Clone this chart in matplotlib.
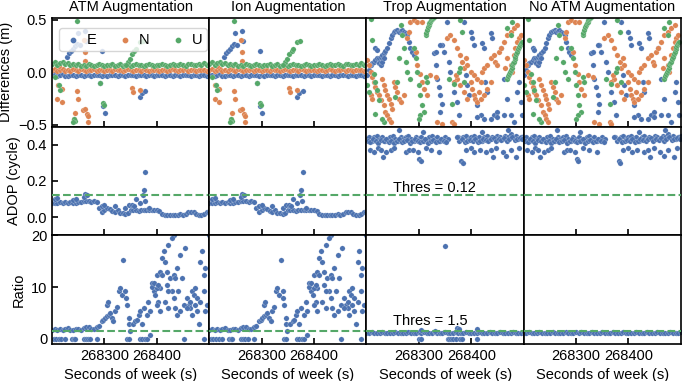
import numpy as np
import matplotlib.pyplot as plt

plt.rcParams['font.family'] = ['Liberation Sans', 'DejaVu Sans']
plt.rcParams['font.size'] = 10.5

BLUE, ORANGE, GREEN = '#4c72b0', '#dd8452', '#55a868'
nan = np.nan

titles = ['ATM Augmentation', 'Ion Augmentation', 'Trop Augmentation', 'No ATM Augmentation']
row_labels = ['Differences (m)', 'ADOP (cycle)', 'Ratio']
thres_adop = 0.12
thres_ratio = 1.5

# ---- Differences, ATM / Ion (bands every 5 s + outliers) ----
diff_E_band = [-0.03, -0.024, -0.038, -0.03, -0.02, -0.033, -0.04, -0.027, -0.022, -0.035,
               -0.03, -0.022, -0.038, -0.03, -0.026, -0.036, -0.03, -0.022, -0.03, -0.04,
               -0.026, -0.034, -0.03, -0.022, -0.03, -0.037, -0.026, -0.03, -0.04, -0.03,
               -0.022, -0.03, -0.036, -0.026, -0.03, -0.03, -0.039, -0.024, -0.03, -0.034,
               -0.026, -0.03, -0.03, -0.037, -0.023, -0.03, -0.039, -0.026, -0.03, -0.034,
               -0.03, -0.022, -0.03, -0.036, -0.026, -0.03, -0.039, -0.03, -0.025, -0.034, -0.03]
diff_N_band = [0.02, 0.028, 0.012, 0.02, 0.032, 0.015, 0.024, 0.01, 0.028, 0.02,
               0.014, 0.027, 0.02, 0.012, 0.025, 0.02, 0.029, 0.015, 0.02, 0.026,
               0.016, 0.023, 0.02, 0.013, 0.027, 0.02, 0.024, 0.015, 0.02, 0.028,
               0.02, 0.013, 0.025, 0.02, 0.016, 0.027, 0.02, 0.014, 0.023, 0.02,
               0.026, 0.016, 0.02, 0.025, 0.014, 0.02, 0.028, 0.02, 0.013, 0.023,
               0.02, 0.027, 0.016, 0.02, 0.025, 0.014, 0.02, 0.026, 0.02, 0.015, 0.023]
diff_U_band = [0.08, 0.095, 0.07, 0.085, 0.1, 0.075, 0.09, 0.065, 0.08, 0.07,
               0.075, 0.058, 0.072, 0.062, 0.078, 0.068, 0.058, 0.07, 0.078, 0.068,
               0.06, 0.074, 0.066, 0.078, 0.062, 0.07, 0.08, 0.062, 0.07, 0.076,
               0.064, 0.07, 0.078, 0.066, 0.074, 0.062, 0.07, 0.08, 0.07, 0.064,
               0.074, 0.066, 0.078, 0.07, 0.062, 0.074, 0.082, 0.07, 0.066, 0.078,
               0.07, 0.064, 0.076, 0.082, 0.07, 0.066, 0.078, 0.074, 0.084, 0.07, 0.078]
atm_E_t = [268229, 268232, 268236, 268240, 268244, 268248, 268250, 268253, 268263, 268265,
           268292, 268296, 268297, 268301, 268349, 268368, 268372, 268378]
atm_E_v = [0.15, 0.18, 0.20, 0.22, 0.25, 0.27, 0.38, 0.26, 0.39, 0.30,
           -0.10, 0.20, -0.32, -0.39, 0.03, -0.24, -0.20, -0.18]
atm_N_t = [268211, 268219, 268210, 268219, 268248, 268250, 268244, 268242, 268259, 268263,
           268267, 268269, 268269, 268263, 268263, 268261, 268353, 268355, 268368, 268214]
atm_N_v = [-0.12, -0.16, -0.26, -0.28, -0.18, -0.26, -0.39, -0.45, -0.36, -0.35,
           -0.40, -0.42, -0.48, 0.19, 0.11, 0.31, -0.15, -0.19, -0.17, 0.06]
atm_U_t = [268248, 268244, 268242, 268240, 268297, 268299, 268292, 268345, 268349, 268353,
           268357, 268360, 268368, 268374, 268215, 268213, 268206, 268341]
atm_U_v = [0.49, -0.47, -0.45, -0.48, -0.29, -0.31, -0.10, 0.10, 0.13, 0.17,
           0.20, 0.22, 0.29, 0.30, -0.17, -0.12, -0.05, 0.07]

# ---- Differences, Trop / No ATM ----
trop_E_t = [268201, 268205, 268208, 268211, 268214, 268217, 268220, 268224, 268227, 268230,
            268233, 268236, 268240, 268243, 268246, 268249, 268252, 268255, 268259, 268262,
            268265, 268268, 268271, 268275, 268278, 268281, 268284, 268287, 268290, 268217,
            268220, 268224, 268227, 268230, 268233,
            268329, 268332, 268335, 268338, 268341, 268344, 268344, 268348, 268354, 268357,
            268360, 268367, 268373, 268376, 268386, 268389, 268392, 268395, 268399, 268402,
            268405, 268411, 268418, 268421, 268424, 268427, 268430, 268437, 268440, 268443,
            268449, 268456, 268462, 268468, 268475, 268481, 268488, 268491, 268494, 268497,
            268411, 268424, 268437, 268449, 268462, 268341, 268332, 268341]
trop_E_v = [-0.028, 0.02, 0.068, 0.084, 0.10, 0.116, 0.132, 0.138, 0.148, 0.164,
            0.18, 0.202, 0.228, 0.276, 0.324, 0.356, 0.388, 0.394, 0.404, 0.388,
            0.394, 0.404, 0.388, 0.372, 0.356, 0.292, 0.228, 0.196, 0.164, 0.228,
            0.212, 0.084, 0.068, 0.10, 0.132,
            0.18, 0.068, -0.06, -0.14, -0.22, -0.30, 0.26, 0.196, 0.484, 0.10,
            0.004, -0.188, -0.284, -0.412, 0.484, -0.028, -0.124, -0.22, 0.388, 0.324,
            0.26, -0.316, -0.412, 0.276, 0.228, -0.092, -0.188, 0.372, 0.324, -0.412,
            -0.38, 0.228, -0.06, -0.252, -0.412, -0.476, -0.188, -0.092, -0.284, -0.412,
            -0.428, -0.444, -0.444, -0.428, -0.412, -0.38, 0.196, 0.26]
trop_N_t = [268201, 268205, 268208, 268211, 268214, 268217, 268220, 268224, 268227, 268230,
            268233, 268236, 268240, 268243, 268246, 268249, 268233, 268236, 268240, 268243,
            268246, 268252, 268255, 268259, 268262, 268265, 268271, 268278, 268281, 268284,
            268290, 268297, 268306, 268294, 268297, 268303, 268306, 268309, 268316, 268322,
            268332, 268354, 268360, 268367, 268373, 268379, 268383, 268386, 268389, 268392,
            268399, 268405, 268411, 268418, 268421, 268424, 268430, 268437, 268443, 268446,
            268449, 268453, 268456, 268462, 268468, 268475, 268481, 268488, 268491, 268494,
            268399, 268402, 268405, 268408, 268411, 268414, 268418, 268424, 268430, 268437,
            268386, 268392, 268379, 268373, 268367, 268370, 268364, 268367, 268335, 268344,
            268475, 268478, 268481, 268484, 268488, 268468, 268465, 268208, 268211]
trop_N_v = [0.116, 0.068, 0.004, -0.044, -0.092, -0.14, -0.188, -0.22, -0.268, -0.06,
            -0.124, -0.172, -0.22, -0.252, -0.30, -0.348, -0.316, -0.38, -0.412, -0.444,
            -0.476, -0.092, -0.14, -0.188, -0.252, -0.284, -0.22, 0.324, 0.388, 0.484,
            0.50, 0.484, 0.484, 0.196, 0.068, -0.012, -0.092, -0.156, -0.22, -0.028,
            -0.044, 0.324, 0.356, 0.308, 0.228, 0.164, 0.10, 0.036, 0.132, 0.068,
            0.004, -0.028, -0.06, -0.092, 0.004, 0.036, 0.068, 0.132, 0.164, 0.10,
            0.068, 0.196, 0.228, 0.292, 0.356, 0.388, 0.42, 0.452, 0.324, 0.356,
            -0.092, -0.156, -0.22, -0.252, -0.284, -0.188, -0.252, -0.22, -0.156, -0.092,
            -0.188, -0.252, -0.124, -0.06, -0.092, -0.028, -0.476, -0.492, -0.476, -0.492,
            0.068, 0.004, 0.164, 0.228, 0.292, 0.132, 0.036, -0.22, -0.26]
trop_U_t = [268313, 268314, 268316, 268317, 268319, 268320, 268322, 268323, 268325, 268327, 268329,
            268468, 268470, 268472, 268474, 268475, 268477, 268478, 268480, 268481, 268483,
            268484, 268486, 268488, 268490, 268491, 268493, 268494, 268497,
            268211, 268214, 268217, 268220, 268224, 268265, 268268, 268271, 268275, 268278,
            268262, 268290, 268294, 268297, 268300, 268303, 268306, 268309, 268303, 268300,
            268313, 268316, 268284, 268259, 268255, 268233, 268230, 268217, 268468, 268475,
            268478, 268379, 268383, 268364, 268367, 268376, 268379, 268386, 268357, 268201,
            268205, 268208]
trop_U_v = [0.356, 0.38, 0.404, 0.43, 0.452, 0.468, 0.484, 0.497, 0.51, 0.52, 0.532,
            -0.06, -0.036, -0.012, 0.004, 0.02, 0.044, 0.068, 0.084, 0.10, 0.124,
            0.148, 0.172, 0.196, 0.22, 0.244, 0.26, 0.276, 0.292,
            0.308, -0.012, -0.092, -0.172, -0.268, 0.452, 0.356, 0.228, 0.10, 0.004,
            0.132, 0.228, 0.132, 0.004, -0.124, -0.22, -0.316, -0.38, -0.412, -0.444,
            -0.044, -0.092, -0.06, -0.092, -0.236, -0.476, -0.444, -0.396, 0.42, 0.356,
            0.484, 0.50, 0.388, -0.30, -0.108, 0.004, 0.036, -0.092, -0.06, -0.124,
            -0.188, 0.51]

# ---- ADOP ----
adop_atm_band = [0.078, 0.08, 0.076, 0.082, 0.079, 0.085, 0.08, 0.083, 0.078, 0.081,
                 0.084, 0.086, 0.088, 0.09, 0.087, 0.085, 0.088, 0.086,
                 0.05, 0.03, 0.04,
                 0.05, 0.045, 0.035, 0.03, 0.038,
                 0.025, 0.022, 0.02, 0.024,
                 0.04, 0.042, 0.038, 0.036,
                 0.04, 0.042, 0.04, 0.038, 0.04, 0.042, 0.04, 0.035,
                 0.015, 0.013, 0.012, 0.014, 0.013, 0.012, 0.013, 0.015, 0.014, 0.02,
                 0.028, 0.03, 0.027,
                 0.015, 0.013, 0.014, 0.016,
                 0.028, 0.03]
adop_atm_t = [268205, 268210, 268240, 268245, 268263, 268260, 268266, 268295, 268300, 268320,
              268340, 268347, 268352, 268356, 268360, 268368, 268374, 268375, 268378, 268377, 268385]
adop_atm_v = [0.1, 0.105, 0.095, 0.1, 0.13, 0.11, 0.12, 0.06, 0.065, 0.06,
              0.05, 0.07, 0.068, 0.06, 0.1, 0.077, 0.123, 0.15, 0.25, 0.09, 0.05]
adop_trop_band = [0.43, 0.44, 0.42, 0.44, 0.45, 0.43, 0.44, 0.42, 0.43, 0.44,
                  0.45, 0.43, 0.42, 0.44, 0.43, 0.44, 0.45, 0.43, 0.42, 0.44,
                  0.43, 0.44, 0.42, 0.43, 0.44, 0.45, 0.43, 0.44, 0.42, 0.43,
                  0.44, 0.43, nan, nan, nan, 0.44, 0.43, 0.44, 0.45, 0.43,
                  0.44, 0.45, 0.43, 0.44, 0.42, 0.44, 0.45, 0.43, 0.44, 0.43,
                  0.45, 0.44, 0.43, 0.45, 0.44, 0.46, 0.44, 0.45, 0.43, 0.44, 0.45]
adop_trop_band2 = [0.42, 0.415, 0.43, 0.42, 0.41, 0.425, 0.42, 0.43, 0.415, 0.42,
                   0.41, 0.42, 0.43, 0.415, 0.42, 0.425, 0.41, 0.42, 0.43, 0.42,
                   0.415, 0.42, 0.43, 0.41, 0.42, 0.425, 0.415, 0.42, 0.43, 0.42,
                   0.415, nan, nan, nan, nan, 0.42, 0.43, 0.415, 0.42, 0.425,
                   0.42, 0.43, 0.415, 0.42, 0.43, 0.425, 0.42, 0.43, 0.435, 0.42,
                   0.43, 0.425, 0.435, 0.42, 0.43, 0.44, 0.425, 0.43, 0.435, 0.43]
adop_trop_t = [268206, 268215, 268222, 268228, 268238, 268247, 268253, 268276, 268282, 268288,
               268298, 268314, 268324, 268339, 268390, 268400, 268406, 268416, 268429, 268438,
               268448, 268461, 268476, 268492,
               268231, 268301, 268304, 268381, 268384, 268441, 268467, 268486,
               268263, 268308, 268373, 268420, 268470]
adop_trop_v = [0.37, 0.36, 0.38, 0.37, 0.36, 0.37, 0.38, 0.36, 0.37, 0.37,
               0.36, 0.38, 0.37, 0.36, 0.37, 0.38, 0.36, 0.37, 0.36, 0.37,
               0.38, 0.36, 0.37, 0.38,
               0.33, 0.32, 0.31, 0.31, 0.30, 0.33, 0.34, 0.33,
               0.48, 0.47, 0.44, 0.47, 0.48]

# ---- Ratio ----
ratio_atm_band = [1.8, 1.9, 1.7, 2.0, 1.8, 1.9, 2.1, 1.8, 1.7, 1.9,
                  2.0, 1.8, 2.1, 2.3, 2.2, 2.0, 1.9, 2.2, 2.4]   # 268200..268290
ratio_atm_zero_t = [268203, 268208, 268213, 268218, 268225, 268238, 268241, 268244, 268260, 268264,
                    268269, 268273, 268285, 268343, 268346, 268368, 268372, 268377, 268381, 268451, 268489]
ratio_atm_t = [268295, 268298, 268301, 268304, 268308, 268311, 268314, 268317, 268320, 268304,
               268306, 268324, 268327, 268330, 268333, 268336, 268340, 268341, 268343, 268346,
               268346, 268349, 268355, 268359, 268362, 268365, 268368, 268371, 268375, 268384,
               268387, 268390, 268394, 268397, 268400, 268403, 268406, 268410, 268413, 268416,
               268419, 268422, 268425, 268429, 268432, 268435, 268438, 268441, 268445, 268448,
               268454, 268457, 268461, 268464, 268467, 268470, 268473, 268476, 268480, 268483,
               268486, 268489, 268492, 268496, 268499, 268381, 268387, 268400, 268406, 268416,
               268422, 268432, 268438, 268445, 268451, 268457, 268464, 268467, 268473, 268476,
               268483, 268489, 268492, 268390, 268394, 268400, 268403, 268406, 268410, 268419,
               268422, 268432, 268435, 268429]
ratio_atm_v = [3.4, 3.7, 4.0, 4.4, 4.7, 5.0, 4.0, 3.4, 5.3, 6.6,
               7.2, 6.1, 9.2, 9.8, 8.5, 15.3, 9.2, 7.9, 6.6, 4.0,
               2.8, 1.5, 2.8, 3.4, 3.7, 4.7, 5.3, 2.8, 6.0, 7.2,
               0.8, 10.8, 9.2, 8.5, 12.4, 7.2, 9.8, 15.6, 16.9, 14.9,
               13.0, 18.1, 11.7, 9.2, 20.0, 6.0, 13.7, 9.2, 16.2, 11.7,
               17.5, 7.9, 6.6, 6.0, 9.2, 8.5, 9.8, 5.3, 2.8, 14.9,
               16.9, 12.4, 13.7, 6.6, 20.0, 4.7, 5.3, 6.6, 5.3, 7.2,
               6.0, 7.9, 4.7, 5.3, 6.6, 6.0, 7.2, 4.7, 6.6, 7.9,
               7.2, 9.2, 5.3, 10.1, 10.8, 9.8, 10.4, 13.0, 12.4, 10.4,
               9.2, 12.4, 11.7, 19.4]
ratio_trop_band = [1.2, 1.1, 1.3, 1.2, 1.1, 1.2, 1.3, 1.1, 1.2, 1.2,
                   1.1, 1.3, 1.2, 1.1, 1.2, 1.2, 1.3, 1.1, 1.2, 1.1,
                   1.3, 1.2, 1.4, 1.2, 1.1, 1.2, 1.3, 1.2, 1.1, 1.2,
                   1.3, 1.2, 1.1, 1.2, 1.3, 1.2, 1.2, 1.1, 1.3, 1.2,
                   1.2, 1.1, 1.2, 1.3, 1.2, 1.1, 1.2, 1.3, 1.2, 1.1,
                   1.2, 1.3, 1.2, 1.1, 1.2, 1.2, 1.3, 1.1, 1.2, 1.2, 1.3]
ratio_trop_t = [268301, 268304, 268350, 268355, 268358, 268362, 268366, 268370, 268378, 268383,
                268410, 268305, 268372, 268376, 268410, 268330]
ratio_trop_v = [0, 0, 17.9, 0, 0, 0, 0, 0, 0, 0,
                0, 1.8, 2.1, 2.0, 1.9, 1.6]


def band_t(vals, start=268200, stop=268500):
    return np.linspace(start, stop, len(vals))


def dots(ax, t, v, c, label=None):
    ax.scatter(t, v, s=15, c=c, edgecolors='white', linewidths=0.15, label=label, zorder=2)


fig, axes = plt.subplots(3, 4, sharex=True, sharey='row', figsize=(6.85, 3.81), dpi=100)
fig.subplots_adjust(left=0.076, right=0.994, top=0.953, bottom=0.097, wspace=0, hspace=0)

for j in range(4):
    ax = axes[0, j]
    if j < 2:
        dots(ax, np.r_[band_t(diff_E_band), atm_E_t], diff_E_band + atm_E_v, BLUE, 'E')
        dots(ax, np.r_[band_t(diff_N_band), atm_N_t], diff_N_band + atm_N_v, ORANGE, 'N')
        dots(ax, np.r_[band_t(diff_U_band), atm_U_t], diff_U_band + atm_U_v, GREEN, 'U')
    else:
        dots(ax, trop_E_t, trop_E_v, BLUE, 'E')
        dots(ax, trop_N_t, trop_N_v, ORANGE, 'N')
        dots(ax, trop_U_t, trop_U_v, GREEN, 'U')
    ax.set_title(titles[j], fontsize=10.5, pad=5)

    ax = axes[1, j]
    if j < 2:
        dots(ax, np.r_[band_t(adop_atm_band), adop_atm_t], adop_atm_band + adop_atm_v, BLUE)
    else:
        dots(ax, np.r_[band_t(adop_trop_band), band_t(adop_trop_band2, 268202.5, 268497.5), adop_trop_t],
             adop_trop_band + adop_trop_band2 + adop_trop_v, BLUE)
    ax.axhline(thres_adop, color=GREEN, ls='--', lw=1.5, zorder=3)

    ax = axes[2, j]
    if j < 2:
        dots(ax, np.r_[band_t(ratio_atm_band, 268200, 268290), ratio_atm_zero_t, ratio_atm_t],
             ratio_atm_band + [0] * len(ratio_atm_zero_t) + ratio_atm_v, BLUE)
    elif j == 2:
        dots(ax, np.r_[band_t(ratio_trop_band), ratio_trop_t], ratio_trop_band + ratio_trop_v, BLUE)
    else:
        dots(ax, band_t(ratio_trop_band), ratio_trop_band, BLUE)
    ax.axhline(thres_ratio, color=GREEN, ls='--', lw=1.5, zorder=3)
    ax.set_xlabel('Seconds of week (s)')

axes[1, 2].text(268250, 0.14, f'Thres = {thres_adop}', fontsize=10.5)
axes[2, 2].text(268250, 2.6, f'Thres = {thres_ratio}', fontsize=10.5)

axes[0, 0].set_ylim(-0.52, 0.52)
axes[0, 0].set_yticks([-0.5, 0.0, 0.5])
axes[1, 0].set_ylim(-0.1, 0.5)
axes[1, 0].set_yticks([0.0, 0.2, 0.4])
axes[2, 0].set_ylim(-1, 20)
axes[2, 0].set_yticks([0, 10, 20])
axes[0, 0].set_xlim(268200, 268500)
axes[0, 0].set_xticks([268300, 268400])
axes[0, 0].xaxis.set_major_formatter(plt.FormatStrFormatter('%d'))

for i in range(3):
    axes[i, 0].set_ylabel(row_labels[i])
    for j in range(4):
        ax = axes[i, j]
        for s in ax.spines.values():
            s.set_linewidth(1.2)
        ax.tick_params(direction='in', length=4, width=1.2, labelsize=10.5)
        if j > 0:
            ax.tick_params(axis='y', left=False)

leg = axes[0, 0].legend(loc='upper left', ncol=3, fontsize=10.5, handletextpad=0.3,
                        handlelength=1.3, columnspacing=1.3, borderpad=0.3, framealpha=0.8,
                        markerscale=1.1, bbox_to_anchor=(0.0, 0.97))

fig.savefig('out.png', dpi=100)
